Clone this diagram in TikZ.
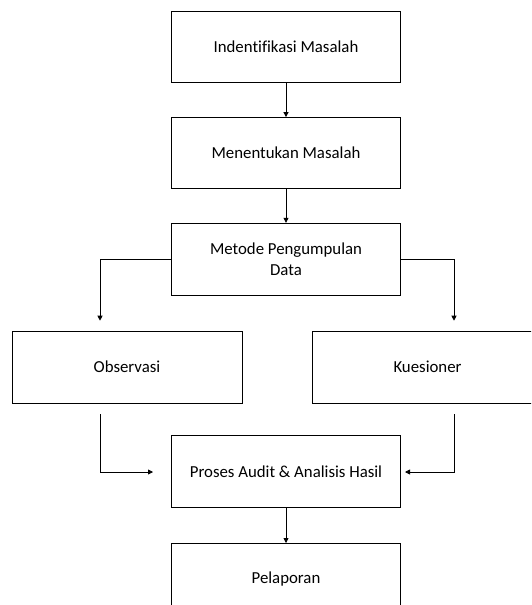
\documentclass[tikz,border=0pt]{standalone}
\usepackage{fontspec}
\setmainfont{Carlito}[Ligatures={NoCommon}]
\usetikzlibrary{arrows.meta}
\begin{document}
\begin{tikzpicture}[x=1pt,y=1pt,
  box/.style={draw=black,line width=0.8pt,minimum width=229.6pt,minimum height=71pt,inner sep=0pt,align=center,font=\fontsize{16.8}{21}\selectfont},
  conn/.style={draw=black,line width=0.8pt,-{Triangle[length=5pt,width=5pt]}}]
\clip (0,0) rectangle (531,-605);
\fill[white] (0,0) rectangle (531,-605);
\node[box] (b1) at (286,-46.7) {Indentifikasi Masalah};
\node[box] (b2) at (286,-153) {Menentukan Masalah};
\node[box,minimum height=72pt] (b3) at (286,-259.2) {Metode Pengumpulan\\Data};
\node[box,minimum width=230pt,minimum height=72pt] (obs) at (127,-367) {Observasi};
\node[box,minimum width=230pt,minimum height=72pt] (kue) at (427.5,-367) {Kuesioner};
\node[box,minimum height=72pt] (pro) at (286,-471.7) {Proses Audit \& Analisis Hasil};
\node[box,minimum height=72pt] (pel) at (286,-579.4) {Pelaporan};
\coordinate (ltip) at (100,-320.7);
\coordinate (rtip) at (454,-320.7);
\coordinate (lstart) at (100,-414);
\coordinate (rstart) at (454,-414);
\coordinate (lend) at (153,-472);
\coordinate (rend) at (405,-472);
\draw[conn] (b1) -- (b2);
\draw[conn] (b2) -- (b3);
\draw[conn] (b3.west) -| (ltip);
\draw[conn] (b3.east) -| (rtip);
\draw[conn] (lstart) |- (lend);
\draw[conn] (rstart) |- (rend);
\draw[conn] (pro) -- (pel);
\end{tikzpicture}
\end{document}
